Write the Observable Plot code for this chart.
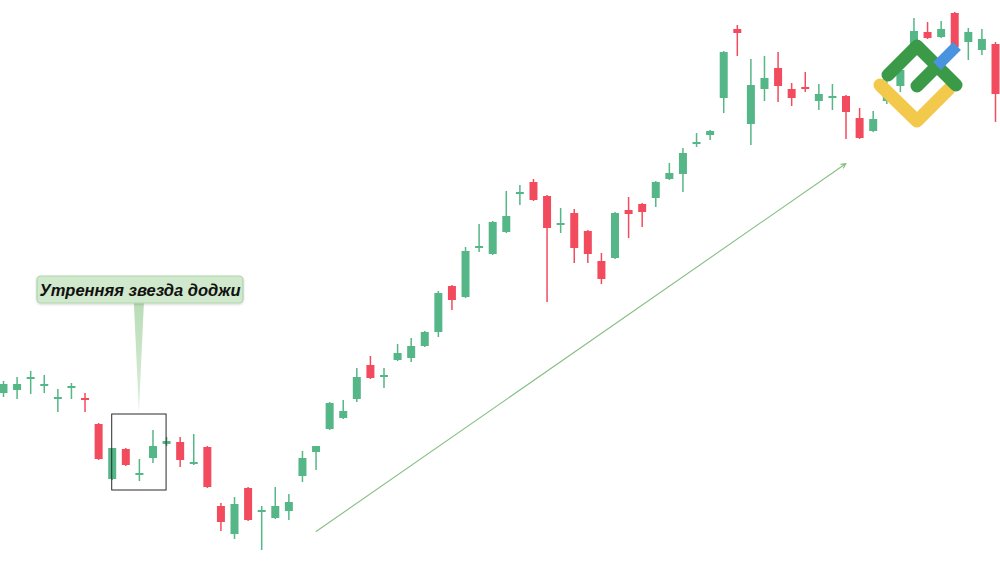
<!DOCTYPE html>
<html><head><meta charset="utf-8">
<script src="https://cdn.jsdelivr.net/npm/d3@7"></script>
<script src="https://cdn.jsdelivr.net/npm/@observablehq/plot@0.6"></script>
<style>
html,body{margin:0;padding:0;background:#fff;}
#chart{position:relative;width:1000px;height:580px;overflow:hidden;background:#fff;}
#chart svg{display:block;}
</style></head><body><div id="chart"></div>
<script>
// Candle data (arbitrary price units)
const openP  = [187,190,201,194,181,192,182,156,101,131,105,122,136,138,116,133,74,46,92,68,62,69,104,128,151,162,181,215,203,220,222,234,248,294,283,332,326,348,386,398,384,355,367,349,319,322,370,376,382,401,406,436,445,482,551,456,491,512,491,493,479,482,484,462,449,479,494,535,548,543,567,538,530,536];
const highP  = [199,203,209,205,191,197,187,157,132,132,121,150,143,143,146,134,77,83,93,74,93,86,129,134,178,180,212,224,212,236,242,249,289,295,333,356,359,389,395,401,385,372,371,350,327,368,383,377,399,417,432,447,450,529,555,521,524,528,497,508,496,496,485,472,469,500,515,562,558,559,568,552,551,538];
const lowP   = [183,181,186,187,168,181,168,120,100,114,99,117,134,113,115,92,49,41,59,30,61,60,98,110,150,161,178,201,192,219,218,233,243,270,282,328,325,347,375,379,278,347,317,317,296,321,342,353,373,400,388,433,440,467,524,435,479,478,474,488,470,470,441,441,448,476,488,534,541,542,532,520,525,458];
const closeP = [196,196,203,196,183,194,180,121,132,115,107,134,139,120,118,93,58,76,60,70,74,78,122,134,177,169,203,202,205,227,234,248,287,280,329,334,358,364,388,380,352,357,332,326,301,367,366,368,398,407,427,438,449,528,547,495,502,494,482,491,486,484,468,442,461,492,510,549,542,551,533,548,541,486];

// Annotation data
const labelText = "Утренняя звезда доджи";
const boxIdx = [8, 12];
const boxPrice = [90, 166];
const trendIdx = [23, 62];
const trendPrice = [49, 417];

const upColor = "#55b688", downColor = "#f24b5e";

const candles = openP.map((o, i) => ({i, open: o, close: closeP[i], high: highP[i], low: lowP[i], dir: closeP[i] >= o ? "up" : "down"}));

const plot = Plot.plot({
  width: 1000, height: 580, margin: 0,
  style: {background: "#fff", overflow: "visible"},
  x: {domain: [0, 73], range: [3, 995], axis: null},
  y: {domain: [0, 580], range: [580, 0], axis: null},
  color: {domain: ["up", "down"], range: [upColor, downColor]},
  marks: [
    Plot.arrow([{x1: trendIdx[0], y1: trendPrice[0], x2: trendIdx[1], y2: trendPrice[1]}],
      {x1: "x1", y1: "y1", x2: "x2", y2: "y2", stroke: "#86bf84", strokeWidth: 1.1, headLength: 7, headAngle: 50}),
    Plot.ruleX(candles, {x: "i", y1: "low", y2: "high", stroke: "dir", strokeWidth: 1.5}),
    Plot.ruleX(candles, {x: "i", y1: "open", y2: "close", stroke: "dir", strokeWidth: 8}),
    Plot.rect([{x1: boxIdx[0], x2: boxIdx[1], y1: boxPrice[0], y2: boxPrice[1]}],
      {x1: "x1", x2: "x2", y1: "y1", y2: "y2", fill: "none", stroke: "#2a2a2a", strokeWidth: 1})
  ]
});
document.getElementById("chart").appendChild(plot);

// Callout label + pointer and logo, drawn on top of the plot SVG
const svg = d3.select(plot);
const xs = plot.scale("x"), ys = plot.scale("y");
const bx = (xs.apply(boxIdx[0]) + xs.apply(boxIdx[1])) / 2; // pointer apex above box centre
const by = ys.apply(boxPrice[1]);

const g = svg.append("g");
const defs = svg.append("defs");
const grad = defs.append("linearGradient").attr("id", "ptr").attr("x1", 0).attr("y1", 0).attr("x2", 0).attr("y2", 1);
grad.append("stop").attr("offset", "0%").attr("stop-color", "#b9dcb7");
grad.append("stop").attr("offset", "100%").attr("stop-color", "#dcefdb");
const f = defs.append("filter").attr("id", "sh").attr("x", "-10%").attr("y", "-30%").attr("width", "120%").attr("height", "160%");
f.append("feDropShadow").attr("dx", 0).attr("dy", 1).attr("stdDeviation", 1.2).attr("flood-color", "#000").attr("flood-opacity", 0.18);

g.append("path")
  .attr("d", `M${bx - 5},303 L${bx + 5},303 L${bx},${by - 2} Z`)
  .attr("fill", "url(#ptr)");
g.append("rect")
  .attr("x", 37).attr("y", 276).attr("width", 206).attr("height", 27).attr("rx", 4)
  .attr("fill", "#d0e8cc").attr("stroke", "#b0d5ad").attr("stroke-width", 1.2)
  .attr("filter", "url(#sh)");
g.append("text")
  .attr("x", 140).attr("y", 295.5).attr("text-anchor", "middle")
  .attr("font-family", "'Liberation Sans', Arial, sans-serif")
  .attr("font-size", 16.5).attr("font-weight", "bold").attr("font-style", "italic")
  .attr("fill", "#111").text(labelText);

// Logo
const logo = svg.append("g").attr("fill", "none").attr("stroke-linecap", "round").attr("stroke-linejoin", "round");
logo.append("path").attr("d", "M880,85 L917,121 L949,89").attr("stroke", "#f2c94b").attr("stroke-width", 13);
logo.append("path").attr("d", "M888,75 L917,46 L956,85").attr("stroke", "#3b9a47").attr("stroke-width", 13);
logo.append("path").attr("d", "M917,86 L937,66").attr("stroke", "#3b9a47").attr("stroke-width", 13);
logo.append("path").attr("d", "M937,66 L957,46").attr("stroke", "#4a93df").attr("stroke-width", 11).attr("stroke-linecap", "butt");
</script>
</body></html>
